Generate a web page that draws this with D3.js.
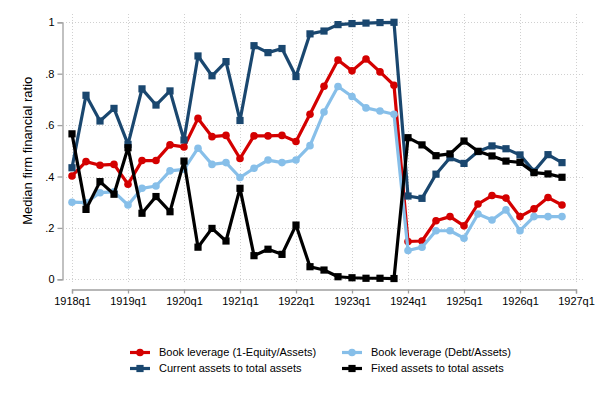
<!DOCTYPE html>
<html>
<head>
<meta charset="utf-8">
<script src="https://cdn.jsdelivr.net/npm/d3@7"></script>
<style>
  body { margin: 0; background: #fff; }
  svg { display: block; font-family: "Liberation Sans", Arial, sans-serif; }
</style>
</head>
<body>
<svg id="chart" width="598" height="399"></svg>
<script>
// quarterly data, 1918q1 .. 1926q4
const quarters = d3.range(36);
const xTickLabels = ["1918q1","1919q1","1920q1","1921q1","1922q1","1923q1","1924q1","1925q1","1926q1","1927q1"];
const yTicks = [0, 0.2, 0.4, 0.6, 0.8, 1];

const bookLevEquity = [0.402,0.458,0.444,0.447,0.370,0.462,0.462,0.523,0.515,0.626,0.555,0.560,
  0.470,0.558,0.558,0.560,0.536,0.642,0.751,0.853,0.811,0.857,0.807,0.755,
  0.147,0.149,0.228,0.244,0.208,0.293,0.326,0.316,0.244,0.274,0.318,0.289];
const bookLevDebt = [0.300,0.298,0.337,0.340,0.289,0.354,0.363,0.422,0.428,0.510,0.447,0.454,
  0.396,0.432,0.464,0.454,0.464,0.520,0.651,0.750,0.711,0.667,0.655,0.642,
  0.112,0.125,0.189,0.189,0.160,0.254,0.231,0.270,0.189,0.244,0.244,0.244];
const currentAssets = [0.434,0.716,0.616,0.665,0.525,0.741,0.678,0.733,0.542,0.869,0.792,0.847,
  0.618,0.909,0.882,0.898,0.789,0.955,0.966,0.991,0.995,0.997,0.999,1.000,
  0.324,0.315,0.409,0.473,0.451,0.497,0.519,0.508,0.484,0.420,0.485,0.454];
const fixedAssets = [0.566,0.272,0.380,0.331,0.512,0.257,0.322,0.263,0.460,0.125,0.198,0.149,
  0.354,0.092,0.117,0.097,0.211,0.049,0.036,0.010,0.006,0.004,0.004,0.003,
  0.551,0.523,0.481,0.488,0.538,0.498,0.480,0.460,0.455,0.415,0.410,0.397];

const series = [
  { name: "Book leverage (1-Equity/Assets)", values: bookLevEquity, color: "#d40000", marker: "circle" },
  { name: "Book leverage (Debt/Assets)", values: bookLevDebt, color: "#87bfe9", marker: "circle" },
  { name: "Current assets to total assets", values: currentAssets, color: "#1a476f", marker: "square" },
  { name: "Fixed assets to total assets", values: fixedAssets, color: "#000000", marker: "square" }
];

const svg = d3.select("#chart");
const x = d3.scaleLinear().domain([0, 36]).range([72, 576]);
const y = d3.scaleLinear().domain([0, 1]).range([279.3, 22.3]);

// grid
const grid = svg.append("g").attr("stroke", "#d0d0d0").attr("stroke-width", 1)
  .attr("stroke-dasharray", "1,2");
grid.selectAll(".hg").data(yTicks).enter().append("line")
  .attr("x1", 66).attr("x2", 584)
  .attr("y1", d => Math.round(y(d)) + 0.5).attr("y2", d => Math.round(y(d)) + 0.5);
grid.selectAll(".vg").data(d3.range(0, 37, 4)).enter().append("line")
  .attr("y1", 14).attr("y2", 283)
  .attr("x1", d => Math.round(x(d)) + 0.5).attr("x2", d => Math.round(x(d)) + 0.5);

// y axis
const yAxis = svg.append("g").attr("transform", "translate(62.5,0)")
  .call(d3.axisLeft(y).tickValues(yTicks).tickSize(5).tickPadding(3)
    .tickFormat(d => d === 0 ? "0" : d === 1 ? "1" : d3.format(".1f")(d).replace(/^0/, "")));
yAxis.select(".domain").attr("stroke", "#a0a0a0").attr("stroke-width", 1.3);
yAxis.selectAll(".tick line").attr("stroke", "#a0a0a0").attr("stroke-width", 1.3);
yAxis.selectAll("text").attr("font-size", 11).attr("fill", "#000")
  .attr("font-family", "Liberation Sans, Arial, sans-serif");

// x axis
const xAxis = svg.append("g").attr("transform", "translate(0,289.5)")
  .call(d3.axisBottom(x).tickValues(d3.range(0, 37, 4)).tickSize(4).tickPadding(4)
    .tickFormat((d, i) => xTickLabels[i]));
xAxis.select(".domain").attr("stroke", "#a0a0a0").attr("stroke-width", 1.3);
xAxis.selectAll(".tick line").attr("stroke", "#a0a0a0").attr("stroke-width", 1.3);
xAxis.selectAll("text").attr("font-size", 11).attr("fill", "#000")
  .attr("font-family", "Liberation Sans, Arial, sans-serif");

svg.append("text")
  .attr("transform", "translate(32," + y(0.5) + ") rotate(-90)")
  .attr("text-anchor", "middle")
  .attr("font-size", 13)
  .text("Median firm financial ratio");

// lines + markers
const line = d3.line().x((d, i) => x(i)).y(d => y(d));
series.forEach(s => {
  const g = svg.append("g");
  g.append("path").datum(s.values)
    .attr("d", line).attr("fill", "none")
    .attr("stroke", s.color).attr("stroke-width", 3.2).attr("stroke-linejoin", "round");
  if (s.marker === "circle") {
    g.selectAll("circle").data(s.values).enter().append("circle")
      .attr("cx", (d, i) => x(i)).attr("cy", d => y(d)).attr("r", 3.8)
      .attr("fill", s.color);
  } else {
    g.selectAll("rect").data(s.values).enter().append("rect")
      .attr("x", (d, i) => x(i) - 3.6).attr("y", d => y(d) - 3.6)
      .attr("width", 7.2).attr("height", 7.2).attr("fill", s.color);
  }
});

// legend
const legendPos = [[130, 352.5], [342, 352.5], [130, 368.5], [342, 368.5]];
series.forEach((s, i) => {
  const [lx, ly] = legendPos[i];
  const g = svg.append("g").attr("transform", "translate(" + lx + "," + ly + ")");
  g.append("line").attr("x1", 0).attr("x2", 20).attr("y1", 0).attr("y2", 0)
    .attr("stroke", s.color).attr("stroke-width", 3.2);
  if (s.marker === "circle") {
    g.append("circle").attr("cx", 10).attr("cy", 0).attr("r", 3.8).attr("fill", s.color);
  } else {
    g.append("rect").attr("x", 6.4).attr("y", -3.6).attr("width", 7.2).attr("height", 7.2).attr("fill", s.color);
  }
  g.append("text").attr("x", 29).attr("y", 0).attr("dy", "0.35em")
    .attr("font-size", 11).text(s.name);
});
</script>
</body>
</html>
